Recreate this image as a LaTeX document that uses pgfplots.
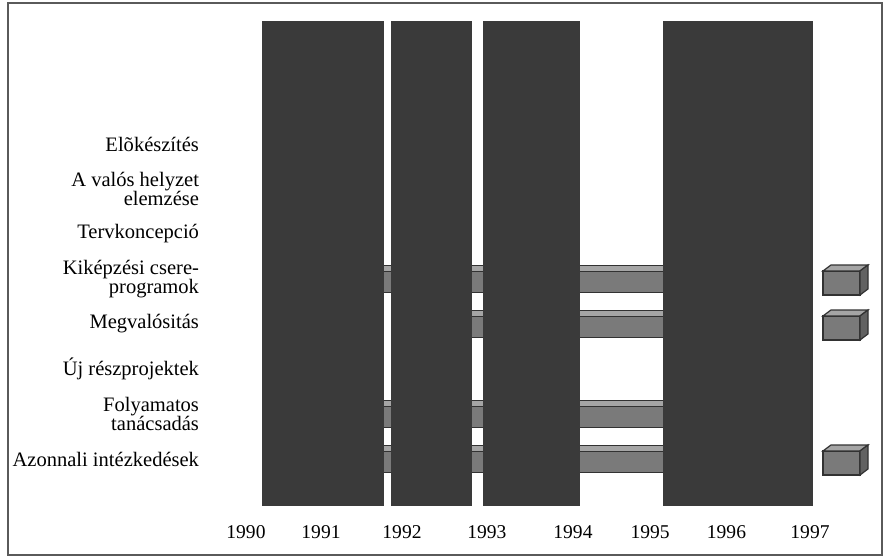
\documentclass[border=0pt]{standalone}
\usepackage{fontspec}
\setmainfont{Liberation Serif}
\usepackage{pgfplots}
\pgfplotsset{compat=1.18}

\definecolor{blk}{RGB}{58,58,58}
\definecolor{barfront}{RGB}{122,122,122}
\definecolor{bartop}{RGB}{165,165,165}
\definecolor{barline}{RGB}{50,50,50}
\definecolor{framegray}{RGB}{90,90,90}

% flat gantt bar: start, end, row
\newcommand\ganttbar[3]{%
  \pgfmathsetmacro\ytop{#3+0.311}%
  \pgfmathsetmacro\ymid{#3+0.156}%
  \pgfmathsetmacro\ybot{#3-0.311}%
  \addplot[draw=barline, fill=barfront, line width=0.5bp] coordinates {(#1,\ybot) (#2,\ybot) (#2,\ymid) (#1,\ymid)} -- cycle;
  \addplot[draw=barline, fill=bartop, line width=0.5bp] coordinates {(#1,\ymid) (#2,\ymid) (#2,\ytop) (#1,\ytop)} -- cycle;
}
% small 3d box: start, end, row
\newcommand\ganttbox[3]{%
  \pgfmathsetmacro\xd{#2+0.099}%
  \pgfmathsetmacro\xs{#1+0.099}%
  \pgfmathsetmacro\ytop{#3+0.311}%
  \pgfmathsetmacro\yft{#3+0.178}%
  \pgfmathsetmacro\ybot{#3-0.356}%
  \pgfmathsetmacro\ysb{#3-0.222}%
  \addplot[draw=barline, fill=barfront, line width=0.6bp] coordinates {(#1,\ybot) (#2,\ybot) (#2,\yft) (#1,\yft)} -- cycle;
  \addplot[draw=barline, fill=bartop, line width=0.6bp] coordinates {(#1,\yft) (#2,\yft) (\xd,\ytop) (\xs,\ytop)} -- cycle;
  \addplot[draw=barline, fill=barfront!80!black, line width=0.6bp] coordinates {(#2,\ybot) (\xd,\ysb) (\xd,\ytop) (#2,\yft)} -- cycle;
}

\begin{document}
\begin{tikzpicture}
\begin{axis}[
    scale only axis,
    width=442.5bp, height=279.5bp,
    xmin=1987, xmax=1997.926,
    ymin=-1.2222, ymax=11.2,
    clip=false,
    axis line style={draw=none},
    tick style={draw=none},
    xtick={1990.037,1990.963,1991.963,1993.012,1994.074,1995.025,1995.969,1997.0},
    xticklabels={1990,1991,1992,1993,1994,1995,1996,1997},
    xticklabel style={anchor=center, yshift=13.5bp, font=\fontsize{9.8}{10}\selectfont},
    ytick={1,2,3,4,5,6,7,8},
    yticklabels={Azonnali intézkedések, {Folyamatos\\tanácsadás}, Új részprojektek,
        Megvalósitás, {Kiképzési csere-\\programok}, Tervkoncepció,
        {A valós helyzet\\elemzése}, Elõkészítés},
    yticklabel style={align=right, anchor=east, xshift=103bp,
        font=\fontsize{10.3}{9.6}\selectfont},
]
% gray bars (mostly hidden under the dark blocks)
\ganttbar{1990.5}{1996.5}{5}
\ganttbar{1992.3}{1996.5}{4}
\ganttbar{1990.5}{1996.5}{2}
\ganttbar{1990.5}{1996.5}{1}

% dark blocks
\addplot[fill=blk, draw=none] coordinates {(1990.235,-0.044) (1991.741,-0.044) (1991.741,10.733) (1990.235,10.733)} -- cycle;
\addplot[fill=blk, draw=none] coordinates {(1991.827,-0.044) (1992.827,-0.044) (1992.827,10.733) (1991.827,10.733)} -- cycle;
\addplot[fill=blk, draw=none] coordinates {(1992.963,-0.044) (1994.160,-0.044) (1994.160,10.733) (1992.963,10.733)} -- cycle;
\addplot[fill=blk, draw=none] coordinates {(1995.185,-0.044) (1997.037,-0.044) (1997.037,10.733) (1995.185,10.733)} -- cycle;

% boxes after 1997
\ganttbox{1997.16}{1997.617}{5}
\ganttbox{1997.16}{1997.617}{4}
\ganttbox{1997.16}{1997.617}{1}

\draw[framegray, line width=0.9bp] (rel axis cs:0.00904,0.00716) rectangle (rel axis cs:0.99661,0.9946);
\end{axis}
\end{tikzpicture}
\end{document}
